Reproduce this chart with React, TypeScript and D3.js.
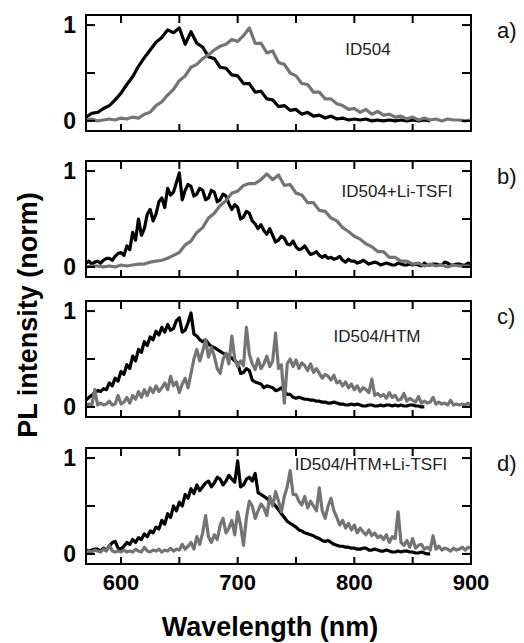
import { useEffect, useRef } from 'react';
import * as d3 from 'd3';

// wavelength grids (nm)
const wl5 = [
  570, 575, 580, 585, 590, 595, 600, 605, 610, 615,
  620, 625, 630, 635, 640, 645, 650, 655, 660, 665,
  670, 675, 680, 685, 690, 695, 700, 705, 710, 715,
  720, 725, 730, 735, 740, 745, 750, 755, 760, 765,
  770, 775, 780, 785, 790, 795, 800, 805, 810, 815,
  820, 825, 830, 835, 840, 845, 850, 855, 860, 865,
  870, 875, 880, 885, 890, 895, 900,
];
const wl25 = [
  570, 572.5, 575, 577.5, 580, 582.5, 585, 587.5, 590, 592.5, 595, 597.5,
  600, 602.5, 605, 607.5, 610, 612.5, 615, 617.5, 620, 622.5, 625, 627.5,
  630, 632.5, 635, 637.5, 640, 642.5, 645, 647.5, 650, 652.5, 655, 657.5,
  660, 662.5, 665, 667.5, 670, 672.5, 675, 677.5, 680, 682.5, 685, 687.5,
  690, 692.5, 695, 697.5, 700, 702.5, 705, 707.5, 710, 712.5, 715, 717.5,
  720, 722.5, 725, 727.5, 730, 732.5, 735, 737.5, 740, 742.5, 745, 747.5,
  750, 752.5, 755, 757.5, 760, 762.5, 765, 767.5, 770, 772.5, 775, 777.5,
  780, 782.5, 785, 787.5, 790, 792.5, 795, 797.5, 800, 802.5, 805, 807.5,
  810, 812.5, 815, 817.5, 820, 822.5, 825, 827.5, 830, 832.5, 835, 837.5,
  840, 842.5, 845, 847.5, 850, 852.5, 855, 857.5, 860, 862.5, 865, 867.5,
  870, 872.5, 875, 877.5, 880, 882.5, 885, 887.5, 890, 892.5, 895, 897.5,
  900,
];

// a) ID504
const aBlack = [
  .04, .08, .09, .13, .16, .22, .29, .38, .46, .57,
  .66, .74, .82, .87, .95, .92, .97, .80, .93, .81,
  .77, .67, .65, .56, .55, .48, .47, .39, .39, .30,
  .31, .23, .22, .15, .16, .11, .12, .07, .09, .05,
  .06, .03, .05, .02, .03, .01, .02, .01, .02, .00,
  .01, .00, .01, .00, .01, .00, .01, .00, .01, .00,
  null, null, null, null, null, null, null,
];
const aGray = [
  .01, .02, .00, .01, .02, .01, .03, .02, .04, .03,
  .07, .09, .16, .20, .27, .33, .42, .47, .56, .59,
  .65, .69, .74, .78, .80, .85, .83, .89, .97, .81,
  .81, .71, .73, .61, .59, .50, .47, .39, .38, .30,
  .30, .23, .23, .18, .16, .12, .13, .09, .12, .07,
  .10, .06, .07, .04, .05, .02, .04, .01, .03, .01,
  .02, .00, .02, .01, .01, .00, .01,
];

// b) ID504+Li-TSFI
const bBlack = [
  .04, .06, .03, .05, .06, .04, .07, .09, .09, .07, .11, .14,
  .15, .12, .22, .18, .36, .28, .50, .33, .40, .55, .60, .48,
  .55, .68, .72, .62, .82, .75, .78, .88, .98, .70, .80, .86,
  .84, .74, .76, .82, .80, .70, .72, .80, .78, .68, .70, .76,
  .74, .66, .60, .65, .62, .50, .52, .58, .56, .48, .45, .40,
  .44, .38, .34, .40, .33, .26, .28, .32, .30, .24, .23, .27,
  .21, .18, .19, .22, .17, .13, .14, .16, .12, .10, .12, .09,
  .10, .08, .09, .11, .07, .05, .08, .06, .06, .04, .05, .07,
  .05, .03, .04, .05, .04, .02, .03, .04, .03, .02, .02, .04,
  .03, .02, .02, .03, .02, .03, .02, .01, .04, .02, .02, .03,
  .03, .02, .02, .05, .04, .02, .02, .03, .03, .02, .02, .04,
  .03,
];
const bGray = [
  .00, .01, .01, .00, .01, .00, .02, .01, .02, .03,
  .03, .05, .06, .07, .09, .12, .15, .23, .27, .36,
  .41, .51, .56, .64, .69, .77, .79, .85, .87, .87,
  .91, .97, .91, .96, .85, .86, .77, .75, .67, .67,
  .59, .58, .51, .48, .41, .37, .32, .29, .24, .21,
  .16, .16, .10, .10, .06, .06, .03, .04, .01, .03,
  .01, .02, .00, .02, .01, .01, .01,
];

// c) ID504/HTM
const cBlack = [
  .07, .10, .12, .15, .17, .16, .19, .18, .25, .22, .30, .27,
  .37, .34, .44, .40, .53, .48, .60, .57, .68, .64, .73, .70,
  .79, .75, .83, .78, .86, .80, .82, .90, .93, .78, .80, .88,
  .98, .76, .74, .70, .68, .70, .66, .63, .62, .60, .58, .56,
  .55, .53, .51, .48, .46, .35, .36, .40, .38, .28, .26, .25,
  .24, .20, .22, .21, .20, .17, .18, .20, .16, .13, .13, .10,
  .09, .10, .09, .08, .08, .07, .07, .06, .06, .05, .05, .04,
  .04, .05, .04, .03, .03, .02, .02, .03, .02, .03, .02, .01,
  .01, .02, .02, .01, .01, .02, .01, .02, .02, .01, .02, .01,
  .02, .01, .01, .02, .02, .01, .01, .00, .00, null, null, null,
  null, null, null, null, null, null, null, null, null, null, null, null,
  null,
];
const cGray = [
  .02, .03, .02, .18, .02, .04, .02, .03, .06, .02, .03, .12,
  .03, .05, .10, .04, .12, .08, .16, .10, .18, .12, .20, .15,
  .22, .16, .20, .25, .18, .32, .22, .26, .15, .24, .30, .20,
  .35, .50, .60, .48, .58, .70, .52, .62, .53, .40, .35, .50,
  .56, .45, .74, .50, .42, .48, .43, .83, .55, .45, .39, .50,
  .40, .45, .53, .42, .48, .77, .40, .44, .04, .45, .50, .42,
  .49, .40, .46, .43, .38, .45, .36, .40, .35, .30, .34, .32,
  .28, .33, .25, .27, .22, .26, .20, .24, .18, .22, .16, .20,
  .18, .15, .29, .12, .14, .11, .13, .09, .15, .10, .12, .07,
  .08, .14, .06, .09, .07, .05, .11, .04, .06, .04, .05, .10,
  .03, .05, .03, .04, .02, .07, .02, .03, .02, .03, .02, .04,
  .02,
];

// d) ID504/HTM+Li-TSFI
const dBlack = [
  .04, .03, .04, .05, .05, .03, .06, .04, .08, .12, .13, .06,
  .05, .08, .12, .10, .15, .12, .17, .15, .21, .18, .24, .22,
  .28, .26, .35, .31, .42, .38, .50, .45, .54, .50, .62, .58,
  .68, .63, .72, .66, .70, .74, .76, .70, .74, .80, .78, .72,
  .76, .82, .78, .75, .97, .70, .72, .78, .80, .76, .84, .64,
  .62, .60, .58, .55, .54, .50, .46, .42, .38, .34, .32, .30,
  .28, .25, .24, .22, .21, .20, .19, .17, .16, .14, .13, .14,
  .12, .10, .09, .08, .08, .07, .07, .06, .06, .05, .05, .06,
  .06, .04, .04, .05, .04, .03, .03, .04, .03, .02, .02, .03,
  .02, .03, .03, .02, .02, .01, .01, .02, .01, .00, .00, null,
  null, null, null, null, null, null, null, null, null, null, null, null,
  null,
];
const dGray = [
  .02, .03, .02, .04, .03, .02, .05, .03, .09, .03, .02, .03,
  .02, .04, .02, .03, .02, .05, .03, .02, .07, .03, .02, .04,
  .03, .05, .02, .04, .03, .06, .03, .05, .04, .10, .05, .08,
  .12, .05, .18, .10, .22, .40, .18, .12, .20, .15, .30, .37,
  .22, .27, .35, .20, .44, .30, .09, .38, .55, .50, .37, .45,
  .52, .48, .40, .60, .50, .65, .55, .44, .60, .70, .87, .62,
  .62, .55, .51, .60, .48, .55, .50, .45, .69, .45, .37, .50,
  .58, .45, .38, .30, .35, .27, .32, .25, .30, .22, .27, .23,
  .20, .25, .19, .22, .17, .19, .15, .20, .12, .18, .16, .44,
  .12, .09, .14, .07, .16, .06, .09, .10, .05, .07, .04, .19,
  .05, .08, .04, .06, .05, .03, .06, .04, .05, .07, .04, .07,
  .06,
];

const panelNames = ['ID504', 'ID504+Li-TSFI', 'ID504/HTM', 'ID504/HTM+Li-TSFI'];
const panelTags = ['a)', 'b)', 'c)', 'd)'];
const panels = [
  { black: aBlack, blackX: wl5, gray: aGray, grayX: wl5 },
  { black: bBlack, blackX: wl25, gray: bGray, grayX: wl5 },
  { black: cBlack, blackX: wl25, gray: cGray, grayX: wl25 },
  { black: dBlack, blackX: wl25, gray: dGray, grayX: wl25 },
];
const xTicks = [600, 650, 700, 750, 800, 850];
const xTickLabels = [600, 700, 800, 900];
const yTicks = [0, 0.5, 1];
const yTickLabels = [0, 1];

export default function App() {
  const svgRef = useRef<SVGSVGElement>(null);

  useEffect(() => {
    if (!svgRef.current) return;
    const svg = d3.select(svgRef.current);
    svg.selectAll('*').remove();

    const font = 'Liberation Sans, Arial, sans-serif';
    const left = 86;
    const right = 471;
    const tops = [15, 161, 301, 448];
    const ph = 116;
    // where the sample name sits in each panel: [center x, baseline offset from top]
    const namePos = [[368, 40], [397, 36], [377, 41], [371, 22]];

    const x = d3.scaleLinear().domain([570, 900]).range([left, right]);

    panels.forEach((p, i) => {
      const top = tops[i];
      const y = d3.scaleLinear().domain([-0.105, 1.105]).range([top + ph, top]);
      const g = svg.append('g');

      const clipId = `clip${i}`;
      g.append('clipPath').attr('id', clipId)
        .append('rect').attr('x', left).attr('y', top).attr('width', right - left).attr('height', ph);

      const line = d3.line<[number, number | null]>()
        .defined(d => d[1] !== null)
        .x(d => x(d[0]))
        .y(d => y(d[1] as number));

      const blackPts = p.blackX.map((w, k) => [w, p.black[k]] as [number, number | null]);
      const grayPts = p.grayX.map((w, k) => [w, p.gray[k]] as [number, number | null]);

      g.append('path')
        .attr('d', line(blackPts))
        .attr('clip-path', `url(#${clipId})`)
        .attr('fill', 'none').attr('stroke', '#000').attr('stroke-width', 3.2)
        .attr('stroke-linejoin', 'round');
      g.append('path')
        .attr('d', line(grayPts))
        .attr('clip-path', `url(#${clipId})`)
        .attr('fill', 'none').attr('stroke', '#747474').attr('stroke-width', 3.2)
        .attr('stroke-linejoin', 'round');

      // frame
      g.append('rect')
        .attr('x', left).attr('y', top).attr('width', right - left).attr('height', ph)
        .attr('fill', 'none').attr('stroke', '#000').attr('stroke-width', 2);

      // inward ticks
      xTicks.forEach(t => {
        g.append('line').attr('x1', x(t)).attr('x2', x(t)).attr('y1', top).attr('y2', top + 8)
          .attr('stroke', '#000').attr('stroke-width', 2);
        g.append('line').attr('x1', x(t)).attr('x2', x(t)).attr('y1', top + ph).attr('y2', top + ph - 7)
          .attr('stroke', '#000').attr('stroke-width', 2);
      });
      yTicks.forEach(t => {
        g.append('line').attr('x1', left).attr('x2', left + 9).attr('y1', y(t)).attr('y2', y(t))
          .attr('stroke', '#000').attr('stroke-width', 2);
        g.append('line').attr('x1', right).attr('x2', right - 9).attr('y1', y(t)).attr('y2', y(t))
          .attr('stroke', '#000').attr('stroke-width', 2);
      });

      yTickLabels.forEach(t => {
        g.append('text')
          .attr('x', 76).attr('y', y(t) + 8)
          .attr('text-anchor', 'end')
          .attr('font-family', font).attr('font-weight', 'bold').attr('font-size', '23px')
          .text(t);
      });

      g.append('text')
        .attr('x', namePos[i][0]).attr('y', top + namePos[i][1])
        .attr('text-anchor', 'middle')
        .attr('font-family', font).attr('font-size', '17px').attr('fill', '#222')
        .text(panelNames[i]);

      g.append('text')
        .attr('x', 497).attr('y', top + 23)
        .attr('font-family', font).attr('font-size', '22px').attr('fill', '#111')
        .text(panelTags[i]);

      if (i === panels.length - 1) {
        xTickLabels.forEach(t => {
          g.append('text')
            .attr('x', x(t)).attr('y', top + ph + 26)
            .attr('text-anchor', 'middle')
            .attr('font-family', font).attr('font-weight', 'bold').attr('font-size', '22px')
            .text(t);
        });
      }
    });

    svg.append('text')
      .attr('x', 270).attr('y', 636)
      .attr('text-anchor', 'middle')
      .attr('font-family', font).attr('font-weight', 'bold').attr('font-size', '27px')
      .text('Wavelength (nm)');

    svg.append('text')
      .attr('transform', 'translate(37,315) rotate(-90)')
      .attr('text-anchor', 'middle')
      .attr('font-family', font).attr('font-weight', 'bold').attr('font-size', '27px')
      .text('PL intensity (norm)');
  }, []);

  return (
    <svg
      ref={svgRef}
      width={524}
      height={643}
      style={{ position: 'absolute', left: 0, top: 0, background: '#fff' }}
    />
  );
}
